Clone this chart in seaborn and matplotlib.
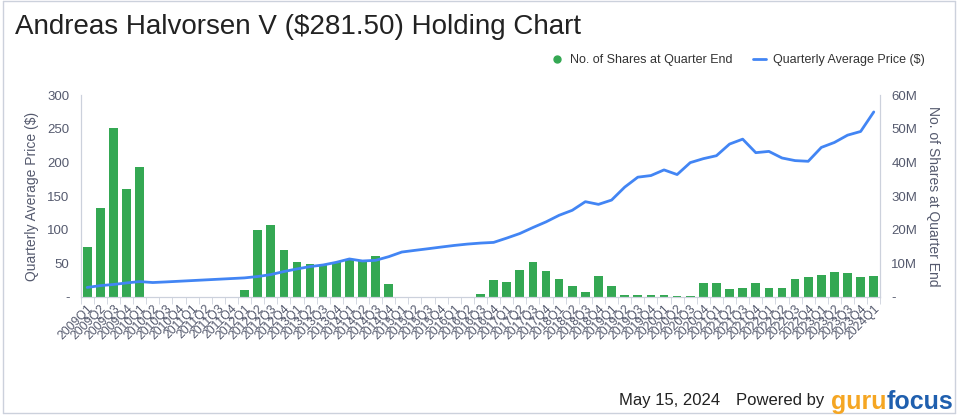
import numpy as np
import pandas as pd
import seaborn as sns
import matplotlib.pyplot as plt
from matplotlib.lines import Line2D
from matplotlib.ticker import FuncFormatter, FixedLocator

# quarter labels 2009Q1 .. 2024Q1
quarters = [f"{y}Q{q}" for y in range(2009, 2025) for q in range(1, 5)][:61]

# shares held at quarter end (millions)
shares_m = [15.0, 26.4, 50.3, 32.1, 38.7, 0, 0, 0, 0, 0,
            0, 0, 2.1, 19.8, 21.3, 14.0, 10.5, 9.8, 9.5, 10.5,
            11.3, 11.0, 12.3, 3.8, 0, 0, 0, 0, 0, 0,
            0.8, 5.0, 4.4, 8.1, 10.3, 7.7, 5.3, 3.3, 1.5, 6.2,
            3.2, 0.6, 0.5, 0.5, 0.5, 0.3, 0.3, 4.2, 4.2, 2.5,
            2.8, 4.1, 2.8, 2.8, 5.5, 6.0, 6.7, 7.4, 7.2, 5.9,
            6.4]

# quarterly average price ($)
price = [14.3, 17.0, 18.7, 21.0, 23.0, 21.6, 22.5, 23.5, 24.5, 25.5,
         26.5, 27.5, 28.5, 30.5, 33.4, 37.9, 41.8, 45.3, 47.7, 51.6,
         56.6, 53.6, 54.6, 60.0, 66.9, 69.4, 71.8, 74.3, 76.7, 78.7,
         80.2, 81.2, 87.6, 94.4, 103.3, 111.7, 121.5, 128.9, 141.7, 137.7,
         144.1, 163.3, 178.1, 180.5, 188.9, 182.0, 199.7, 205.6, 210.0, 227.3,
         234.6, 214.5, 216.4, 206.6, 202.7, 201.7, 222.3, 229.7, 240.5, 246.0,
         275.0]

green = "#34a853"
blue = "#4285f4"
txt = "#555a6e"
frame = "#ccd1dc"

df = pd.DataFrame({"quarter": quarters, "shares": np.array(shares_m) * 1e6,
                   "price": price, "pos": range(len(quarters))})

sns.set_style("white")
plt.rcParams["font.family"] = ["Liberation Sans", "DejaVu Sans"]

fig = plt.figure(figsize=(9.6, 4.19), dpi=100)
ax = fig.add_axes([0.084, 0.291, 0.833, 0.482])
ax2 = ax.twinx()

# shares bars on the right axis
sns.barplot(data=df, x="pos", y="shares", color=green, width=0.66,
            saturation=1, ax=ax2, native_scale=True)
for p in ax2.patches:
    p.set_edgecolor("none")

# price line on the left axis, drawn above the bars
sns.lineplot(data=df, x="pos", y="price", color=blue, linewidth=2, ax=ax)
ax.set_zorder(ax2.get_zorder() + 1)
ax.patch.set_visible(False)

ax.set_xlim(-0.5, len(quarters) - 0.5)
ax.set_ylim(0, 300)
ax2.set_ylim(0, 60e6)
ax.set_yticks(range(0, 301, 50))
ax2.set_yticks(np.arange(0, 60e6 + 1, 10e6))
ax.yaxis.set_major_formatter(FuncFormatter(lambda v, _: "-" if v == 0 else f"{v:.0f}"))
ax2.yaxis.set_major_formatter(FuncFormatter(lambda v, _: "-" if v == 0 else f"{v/1e6:.0f}M"))

ax.set_xticks(range(len(quarters)))
ax.set_xticklabels(quarters, rotation=45, ha="right", rotation_mode="anchor",
                   fontsize=8.8, color=txt)
ax.xaxis.set_minor_locator(FixedLocator(np.arange(-0.5, len(quarters), 1)))
ax.tick_params(axis="x", which="major", length=0, pad=4)
ax.tick_params(axis="x", which="minor", length=5, color=frame, bottom=True)
ax.tick_params(axis="y", length=0, labelsize=9.5, labelcolor=txt, pad=8)
ax2.tick_params(axis="y", length=0, labelsize=9.5, labelcolor=txt, pad=8)
ax2.set_xlabel("")
ax.set_xlabel("")

ax.set_ylabel("Quarterly Average Price ($)", fontsize=10, color=txt, labelpad=6)
ax2.set_ylabel("No. of Shares at Quarter End", fontsize=10, color=txt,
               rotation=270, labelpad=16)

for a in (ax, ax2):
    a.grid(False)
    a.spines["top"].set_visible(False)
    for s in ("left", "right", "bottom"):
        a.spines[s].set_color(frame)

fig.text(0.016, 0.935, "Andreas Halvorsen V ($281.50) Holding Chart",
         fontsize=20, color="#222222", va="center")

handles = [Line2D([], [], marker="o", linestyle="none", color=green, markersize=5),
           Line2D([], [], color=blue, linewidth=2)]
fig.legend(handles, ["No. of Shares at Quarter End", "Quarterly Average Price ($)"],
           loc="center right", bbox_to_anchor=(0.975, 0.857), ncol=2, frameon=False,
           fontsize=9, handlelength=1.0, columnspacing=1.6, handletextpad=0.6,
           labelcolor="#333333")

fig.text(0.645, 0.045, "May 15, 2024", fontsize=12, color="#222222", va="center")
fig.text(0.767, 0.045, "Powered by", fontsize=12, color="#222222", va="center")
t_focus = fig.text(0.993, 0.04, "focus", fontsize=18, fontweight="bold",
                   color="#1f5fae", ha="right", va="center")
fig.canvas.draw()
bb = t_focus.get_window_extent().transformed(fig.transFigure.inverted())
fig.text(bb.x0, 0.04, "guru", fontsize=18, fontweight="bold",
         color="#f5a623", ha="right", va="center")

# light frame around the image
fig.add_artist(Line2D([0.995, 0.995], [0.015, 0.998], color=frame, lw=1))
fig.add_artist(Line2D([0.003, 0.995], [0.015, 0.015], color=frame, lw=1))
fig.add_artist(Line2D([0.003, 0.995], [0.998, 0.998], color=frame, lw=1))
fig.add_artist(Line2D([0.003, 0.003], [0.015, 0.998], color=frame, lw=1))

fig.savefig("out.png", dpi=100)
